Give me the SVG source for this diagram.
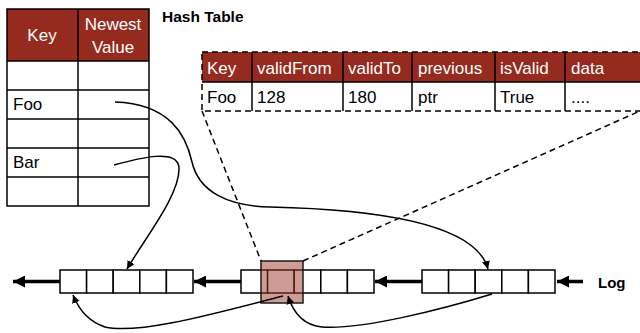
<svg xmlns="http://www.w3.org/2000/svg" width="640" height="333" viewBox="0 0 640 333">
<defs>
<style>
.t{font-family:"Liberation Sans",Arial,sans-serif;font-size:17px;fill:#000}
.w{fill:#fff}
.b{font-family:"Liberation Sans",Arial,sans-serif;font-weight:bold;fill:#000}
.cell{fill:#fff;stroke:#000;stroke-width:1.5}
.hdr{fill:#952B1E}
.ln{stroke:#000;stroke-width:1.5;fill:none}
.curve{stroke:#000;stroke-width:1.5;fill:none;marker-end:url(#sa)}
.thick{stroke:#000;stroke-width:3.5;fill:none;marker-end:url(#ba)}
.dash{stroke:#000;stroke-width:1.5;fill:none;stroke-dasharray:6,4}
</style>
<marker id="sa" markerUnits="userSpaceOnUse" markerWidth="10" markerHeight="10" refX="8" refY="4" orient="auto">
<path d="M0,0 L8,4 L0,8 z" fill="#000"/>
</marker>
<marker id="ba" markerUnits="userSpaceOnUse" markerWidth="14" markerHeight="12" refX="12" refY="6" orient="auto">
<path d="M0,0 L12,6 L0,12 z" fill="#000"/>
</marker>
</defs>
<rect width="640" height="333" fill="#fff"/>

<g id="hash-table">
<rect x="7" y="9" width="142" height="52" class="hdr"/>
<rect x="7" y="9" width="142" height="197" fill="none" stroke="#000" stroke-width="1.5"/>
<line x1="78" y1="9" x2="78" y2="206" class="ln"/>
<line x1="7" y1="61" x2="149" y2="61" class="ln"/>
<line x1="7" y1="90" x2="149" y2="90" class="ln"/>
<line x1="7" y1="119" x2="149" y2="119" class="ln"/>
<line x1="7" y1="148" x2="149" y2="148" class="ln"/>
<line x1="7" y1="177" x2="149" y2="177" class="ln"/>
<text x="42" y="41" class="t w" text-anchor="middle">Key</text>
<text x="113" y="30" class="t w" text-anchor="middle">Newest</text>
<text x="113" y="53" class="t w" text-anchor="middle">Value</text>
<text x="13" y="110" class="t">Foo</text>
<text x="13" y="168" class="t">Bar</text>
</g>

<g id="hash-title">
<text x="162" y="22" class="b" font-size="15.5">Hash Table</text>
</g>

<g id="record">
<rect x="202" y="52" width="440" height="30" class="hdr"/>
<line x1="202" y1="82" x2="642" y2="82" class="ln"/>
<rect x="202" y="52" width="445" height="59" class="dash"/>
<line x1="252" y1="52" x2="252" y2="111" class="ln"/>
<line x1="343" y1="52" x2="343" y2="111" class="ln"/>
<line x1="412" y1="52" x2="412" y2="111" class="ln"/>
<line x1="495" y1="52" x2="495" y2="111" class="ln"/>
<line x1="565" y1="52" x2="565" y2="111" class="ln"/>
<text x="207" y="74" class="t w">Key</text>
<text x="257" y="74" class="t w">validFrom</text>
<text x="348" y="74" class="t w">validTo</text>
<text x="418" y="74" class="t w">previous</text>
<text x="500" y="74" class="t w">isValid</text>
<text x="571" y="74" class="t w">data</text>
<text x="207" y="103" class="t">Foo</text>
<text x="257" y="103" class="t">128</text>
<text x="348" y="103" class="t">180</text>
<text x="418" y="103" class="t">ptr</text>
<text x="500" y="103" class="t">True</text>
<text x="571" y="103" class="t">....</text>
</g>

<g id="log-block-1">
<rect x="60" y="270" width="26.6" height="23" class="cell"/>
<rect x="86.6" y="270" width="26.6" height="23" class="cell"/>
<rect x="113.2" y="270" width="26.6" height="23" class="cell"/>
<rect x="139.8" y="270" width="26.6" height="23" class="cell"/>
<rect x="166.4" y="270" width="26.6" height="23" class="cell"/>
</g>
<g id="log-block-2">
<rect x="241" y="270" width="26.6" height="23" class="cell"/>
<rect x="267.6" y="270" width="26.6" height="23" class="cell"/>
<rect x="294.2" y="270" width="26.6" height="23" class="cell"/>
<rect x="320.8" y="270" width="26.6" height="23" class="cell"/>
<rect x="347.4" y="270" width="26.6" height="23" class="cell"/>
<rect x="261" y="261" width="42" height="42" fill="#A0392C" fill-opacity="0.5" stroke="#1a1a1a" stroke-width="1.5"/>
</g>
<g id="log-block-3">
<rect x="422" y="270" width="26.6" height="23" class="cell"/>
<rect x="448.6" y="270" width="26.6" height="23" class="cell"/>
<rect x="475.2" y="270" width="26.6" height="23" class="cell"/>
<rect x="501.8" y="270" width="26.6" height="23" class="cell"/>
<rect x="528.4" y="270" width="26.6" height="23" class="cell"/>
</g>
<g id="log-label">
<text x="598" y="288" class="b" font-size="15">Log</text>
</g>

<g id="connectors">
<line x1="202" y1="111" x2="261" y2="261" class="dash"/>
<line x1="303" y1="261" x2="640" y2="111" class="dash"/>
<line x1="60" y1="281.5" x2="13" y2="281.5" class="thick"/>
<line x1="241" y1="281.5" x2="194" y2="281.5" class="thick"/>
<line x1="422" y1="281.5" x2="375" y2="281.5" class="thick"/>
<line x1="583" y1="281.5" x2="557" y2="281.5" class="thick"/>
<path d="M115,102 C170,104 186,135 192,162 C199,192 228,206 270,207 C360,209 475,220 488,269" class="curve"/>
<path d="M114,165 C140,158 178,148 179,168 C180,195 145,238 127,269" class="curve"/>
<path d="M283,296 C220,312 140,335 105,327 C90,322 79,310 73,295" class="curve"/>
<path d="M492,294 C440,310 360,330 322,327 C302,325 293,312 288,296" class="curve"/>
</g>
</svg>
